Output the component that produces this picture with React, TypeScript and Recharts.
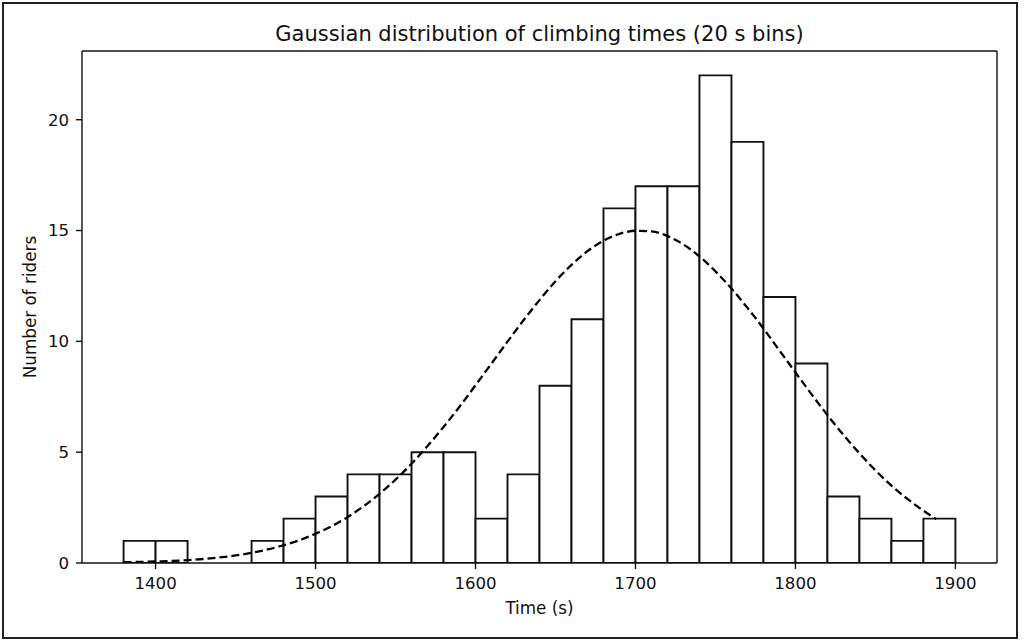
import React from 'react';
import {
	ComposedChart,
	Bar,
	Line,
	XAxis,
	YAxis,
} from 'recharts';

/* ─── Data ────────────────────────────────────────────── */

// 20 s histogram bins, given by their centre time (s)
const binCenters = [
	1390, 1410, 1430, 1450, 1470, 1490, 1510, 1530, 1550, 1570, 1590, 1610, 1630,
	1650, 1670, 1690, 1710, 1730, 1750, 1770, 1790, 1810, 1830, 1850, 1870, 1890,
];

const riderCounts = [
	1, 1, 0, 0, 1, 2, 3, 4, 4, 5, 5, 2, 4,
	8, 11, 16, 17, 17, 22, 19, 12, 9, 3, 2, 1, 2,
];

// dashed gaussian overlay
const curveTimes = [
	1380, 1390, 1400, 1410, 1420, 1430, 1440, 1450, 1460, 1470, 1480, 1490, 1500,
	1510, 1520, 1530, 1540, 1550, 1560, 1570, 1580, 1590, 1600, 1610, 1620, 1630,
	1640, 1650, 1660, 1670, 1680, 1690, 1700, 1710, 1720, 1730, 1740, 1750, 1760,
	1770, 1780, 1790, 1800, 1810, 1820, 1830, 1840, 1850, 1860, 1870, 1880, 1888,
];

const curveValues = [
	0.03, 0.05, 0.07, 0.09, 0.13, 0.18, 0.25, 0.34, 0.46, 0.61, 0.8, 1.03, 1.32,
	1.66, 2.07, 2.56, 3.12, 3.76, 4.48, 5.28, 6.14, 7.05, 8.02, 9.0, 9.99, 10.95,
	11.86, 12.71, 13.45, 14.07, 14.54, 14.85, 14.99, 14.96, 14.75, 14.37, 13.83, 13.16, 12.38,
	11.51, 10.58, 9.59, 8.6, 7.62, 6.67, 5.78, 4.95, 4.18, 3.49, 2.89, 2.36, 1.98,
];

const xTicks = [1400, 1500, 1600, 1700, 1800, 1900];
const yTicks = [0, 5, 10, 15, 20];

const X_DOMAIN: [number, number] = [1354, 1926];
const Y_DOMAIN: [number, number] = [0, 23.1];

const bins = binCenters.map((center, i) => ({ center, count: riderCounts[i] }));
const curve = curveTimes.map((t, i) => ({ t, y: curveValues[i] }));

/* ─── Styles ──────────────────────────────────────────── */

const FONT = '"DejaVu Sans", sans-serif';

const TICK_STYLE = {
	fontSize: 16.6,
	fontFamily: FONT,
	fill: '#111',
};

const AXIS_LINE = { stroke: '#111', strokeWidth: 1.4 };

/* ─── Chart ───────────────────────────────────────────── */

export default function App() {
	return (
		<div
			style={{
				position: 'absolute',
				left: 0,
				top: 0,
				width: 1024,
				height: 644,
				background: '#fff',
				fontFamily: FONT,
			}}
		>
			<div
				style={{
					position: 'absolute',
					left: 2,
					top: 2,
					width: 1016,
					height: 637,
					border: '2px solid #222',
					boxSizing: 'border-box',
				}}
			/>

			<div
				style={{
					position: 'absolute',
					left: 82,
					top: 24,
					width: 915,
					textAlign: 'center',
					fontSize: 21,
					lineHeight: 1,
					color: '#111',
				}}
			>
				Gaussian distribution of climbing times (20 s bins)
			</div>

			<ComposedChart
				width={1024}
				height={644}
				data={bins}
				margin={{ top: 50, right: 26, bottom: 21, left: 22 }}
				barCategoryGap={0}
				barGap={0}
				style={{ position: 'absolute', left: 0, top: 0 }}
			>
				<XAxis
					xAxisId="bins"
					dataKey="center"
					type="number"
					domain={X_DOMAIN}
					ticks={xTicks}
					allowDataOverflow
					height={60}
					tickSize={6}
					tickMargin={8}
					tick={TICK_STYLE}
					tickLine={AXIS_LINE}
					axisLine={AXIS_LINE}
					label={{
						value: 'Time (s)',
						position: 'insideBottom',
						offset: 9,
						style: { ...TICK_STYLE, fontSize: 16.8 },
					}}
				/>

				<XAxis
					xAxisId="curve"
					dataKey="t"
					type="number"
					orientation="top"
					domain={X_DOMAIN}
					allowDataOverflow
					height={1}
					tick={false}
					tickLine={false}
					axisLine={AXIS_LINE}
				/>

				<YAxis
					yAxisId="count"
					type="number"
					domain={Y_DOMAIN}
					ticks={yTicks}
					allowDataOverflow
					width={60}
					tickSize={6}
					tickMargin={7}
					tick={TICK_STYLE}
					tickLine={AXIS_LINE}
					axisLine={AXIS_LINE}
					label={{
						value: 'Number of riders',
						angle: -90,
						position: 'insideLeft',
						offset: 8,
						style: { ...TICK_STYLE, fontSize: 16.8, textAnchor: 'middle' },
					}}
				/>

				<YAxis
					yAxisId="frame"
					orientation="right"
					type="number"
					domain={Y_DOMAIN}
					width={1}
					tick={false}
					tickLine={false}
					axisLine={AXIS_LINE}
				/>

				<Bar
					xAxisId="bins"
					yAxisId="count"
					dataKey="count"
					fill="#fff"
					stroke="#111"
					strokeWidth={1.9}
					isAnimationActive={false}
				/>

				<Line
					data={curve}
					xAxisId="curve"
					yAxisId="count"
					dataKey="y"
					type="monotone"
					stroke="#000"
					strokeWidth={2.3}
					strokeDasharray="8 4"
					dot={false}
					activeDot={false}
					isAnimationActive={false}
				/>
			</ComposedChart>
		</div>
	);
}
